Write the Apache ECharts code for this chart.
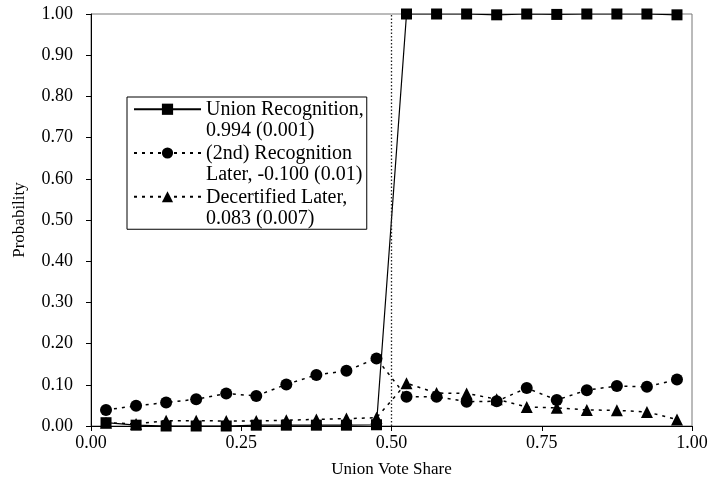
<!DOCTYPE html>
<html>
<head>
<meta charset="utf-8">
<script src="https://cdn.jsdelivr.net/npm/echarts@6/dist/echarts.min.js"></script>
<style>html,body{margin:0;padding:0;background:#fff}#c{width:711px;height:484px}</style>
</head>
<body>
<div id="c"></div>
<script>
const voteShare = [0.025,0.075,0.125,0.175,0.225,0.275,0.325,0.375,0.425,0.475,0.525,0.575,0.625,0.675,0.725,0.775,0.825,0.875,0.925,0.975];
const unionRecognition = [0.008,0.002,0.000,0.000,0.000,0.002,0.002,0.002,0.002,0.003,1.000,1.000,1.000,0.998,1.000,0.999,1.000,1.000,1.000,0.998];
const recognitionLater = [0.039,0.049,0.057,0.065,0.079,0.073,0.101,0.124,0.134,0.164,0.071,0.071,0.059,0.060,0.092,0.063,0.087,0.097,0.095,0.113];
const decertifiedLater = [0.008,0.005,0.013,0.013,0.012,0.012,0.014,0.016,0.018,0.020,0.104,0.080,0.079,0.065,0.046,0.044,0.039,0.038,0.034,0.016];
const seriesNames = ["Union Recognition,\n0.994 (0.001)", "(2nd) Recognition\nLater, -0.100 (0.01)", "Decertified Later,\n0.083 (0.007)"];
const xTicks = [0, 0.25, 0.5, 0.75, 1];
const cutoff = 0.5;

const font = "Liberation Serif";
const pair = arr => voteShare.map((x, i) => [x, arr[i]]);

const chart = echarts.init(document.getElementById('c'));
chart.setOption({
  animation: false,
  backgroundColor: '#fff',
  textStyle: { fontFamily: font, color: '#000' },
  grid: { left: 91, right: 19, top: 14, bottom: 58, show: true, borderColor: '#777', borderWidth: 1 },
  xAxis: {
    type: 'value', min: 0, max: 1, interval: 0.25,
    name: 'Union Vote Share', nameLocation: 'middle', nameGap: 35,
    nameTextStyle: { fontFamily: font, fontSize: 17, color: '#000' },
    axisLine: { lineStyle: { color: '#000', width: 1 } },
    axisTick: { show: true, inside: false, length: 5, lineStyle: { color: '#000' } },
    axisLabel: { fontFamily: font, fontSize: 18, color: '#000', margin: 8, formatter: v => v.toFixed(2), customValues: xTicks },
    splitLine: { show: false }
  },
  yAxis: {
    type: 'value', min: 0, max: 1, interval: 0.1,
    name: 'Probability', nameLocation: 'middle', nameGap: 63,
    nameTextStyle: { fontFamily: font, fontSize: 17, color: '#000' },
    axisLine: { show: true, lineStyle: { color: '#000', width: 1 } },
    axisTick: { show: true, inside: false, length: 5, lineStyle: { color: '#000' } },
    axisLabel: { fontFamily: font, fontSize: 18, color: '#000', margin: 18, formatter: v => v.toFixed(2) },
    splitLine: { show: false }
  },
  legend: {
    orient: 'vertical', left: 127, top: 97,
    padding: [3, 3, 1, 6],
    itemWidth: 67, itemHeight: 14, itemGap: 3,
    borderColor: '#000', borderWidth: 1,
    selectedMode: false,
    formatter: name => {
      const parts = name.split('\n');
      return '{a|' + parts[0] + '}\n{b|' + parts[1] + '}';
    },
    textStyle: {
      fontFamily: font, fontSize: 20, color: '#000',
      rich: {
        a: { fontFamily: font, fontSize: 20, color: '#000', lineHeight: 43, verticalAlign: 'bottom' },
        b: { fontFamily: font, fontSize: 20, color: '#000', lineHeight: 21.5 }
      }
    },
    data: seriesNames
  },
  series: [
    {
      name: seriesNames[0], type: 'line', data: pair(unionRecognition),
      symbol: 'rect', symbolSize: 11,
      itemStyle: { color: '#000' },
      lineStyle: { color: '#000', width: 1.2, type: 'solid' },
      markLine: {
        silent: true, symbol: ['none', 'none'], label: { show: false },
        lineStyle: { color: '#222', width: 1.3, type: [1.5, 2] },
        data: [{ xAxis: cutoff }]
      },
      z: 3
    },
    {
      name: seriesNames[1], type: 'line', data: pair(recognitionLater),
      symbol: 'circle', symbolSize: 12,
      itemStyle: { color: '#000' },
      lineStyle: { color: '#000', width: 1.5, type: [3, 5] },
      z: 2
    },
    {
      name: seriesNames[2], type: 'line', data: pair(decertifiedLater),
      symbol: 'triangle', symbolSize: 12,
      itemStyle: { color: '#000' },
      lineStyle: { color: '#000', width: 1.5, type: [3, 5] },
      z: 2
    }
  ]
});
</script>
</body>
</html>
